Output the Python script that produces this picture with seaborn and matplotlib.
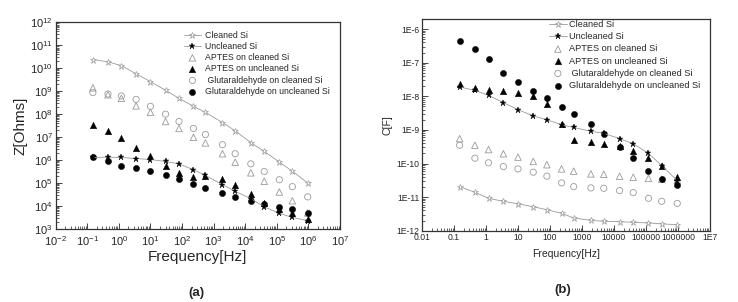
import numpy as np
import pandas as pd
import matplotlib
matplotlib.use('Agg')
import matplotlib.pyplot as plt
import matplotlib.ticker as mticker
import seaborn as sns

sns.set_theme(style="ticks")
plt.rcParams['font.family'] = ['Liberation Sans', 'DejaVu Sans']
plt.rcParams['mathtext.fontset'] = 'custom'
plt.rcParams['mathtext.rm'] = 'Liberation Sans'
plt.rcParams['xtick.direction'] = 'in'
plt.rcParams['ytick.direction'] = 'in'
plt.rcParams['axes.edgecolor'] = '#333333'
plt.rcParams['axes.linewidth'] = 0.9

# 데이터
freq = [0.15, 0.45, 1.2, 3.5, 10, 30, 80, 230, 550, 1900, 4800, 15000, 40000, 120000, 310000, 950000]

# (a) impedance Z [Ohms]
z_cleaned = [2.4e10, 1.9e10, 1.3e10, 5.7e9, 2.6e9, 1.1e9, 4.9e8, 2.2e8, 1.2e8, 4.3e7, 1.9e7, 5.8e6, 2.4e6, 8.2e5, 3.3e5, 1.0e5]
z_uncleaned = [1.3e6, 1.34e6, 1.3e6, 1.17e6, 1.06e6, 8.7e5, 6.9e5, 3.8e5, 2.15e5, 8.5e4, 4.4e4, 2.1e4, 9.2e3, 4.8e3, 3.2e3, 2.3e3]
z_aptes_cl = [1.4e9, 7.0e8, 4.9e8, 2.3e8, 1.2e8, 4.8e7, 2.4e7, 9.8e6, 5.6e6, 1.9e6, 8.1e5, 2.8e5, 1.2e5, 4.1e4, 1.7e4, 5.0e3]
z_aptes_uncl = [3.4e7, 1.9e7, 8.9e6, 3.5e6, 1.5e6, 5.3e5, 2.7e5, 1.8e5, 2.0e5, 1.5e5, 8.0e4, 3.4e4, 1.4e4, 7.6e3, 4.8e3, 2.6e3]
z_glut_cl = [8.7e8, 7.6e8, 6.2e8, 4.4e8, 2.2e8, 1.0e8, 4.8e7, 2.4e7, 1.3e7, 4.7e6, 1.9e6, 6.9e5, 3.2e5, 1.4e5, 7.0e4, 2.5e4]
z_glut_uncl = [1.34e6, 9.6e5, 5.8e5, 4.4e5, 3.3e5, 2.2e5, 1.5e5, 9.1e4, 6.3e4, 3.7e4, 2.5e4, 1.7e4, 1.25e4, 9.2e3, 7.6e3, 4.8e3]

# (b) capacitance C [F]
c_cleaned = [2.05e-11, 1.39e-11, 9.2e-12, 7.5e-12, 6.3e-12, 5.2e-12, 4.2e-12, 3.3e-12, 2.4e-12, 2.03e-12, 1.9e-12, 1.86e-12, 1.77e-12, 1.7e-12, 1.6e-12, 1.5e-12]
c_uncleaned = [1.9e-8, 1.5e-8, 1.07e-8, 6.5e-9, 4.0e-9, 2.6e-9, 2.0e-9, 1.43e-9, 1.18e-9, 9.1e-10, 7.9e-10, 5.5e-10, 3.9e-10, 2.0e-10, 8.7e-11, 3.1e-11]
c_aptes_cl = [5.5e-10, 3.5e-10, 2.6e-10, 1.95e-10, 1.55e-10, 1.15e-10, 9.2e-11, 6.9e-11, 5.9e-11, 4.9e-11, 4.8e-11, 4.2e-11, 3.9e-11, 3.6e-11, 3.4e-11, 3.2e-11]
c_aptes_uncl = [2.4e-8, 1.78e-8, 1.58e-8, 1.44e-8, 1.26e-8, 1.0e-8, 6.0e-9, 1.45e-9, 5.1e-10, 4.3e-10, 3.9e-10, 3.3e-10, 2.3e-10, 1.5e-10, 8.7e-11, 3.9e-11]
c_glut_cl = [3.5e-10, 1.44e-10, 1.05e-10, 8.1e-11, 6.9e-11, 5.5e-11, 4.2e-11, 2.65e-11, 2.05e-11, 1.88e-11, 1.83e-11, 1.56e-11, 1.36e-11, 9.2e-12, 7.5e-12, 6.5e-12]
c_glut_uncl = [4.5e-7, 2.5e-7, 1.25e-7, 5.1e-8, 2.6e-8, 1.48e-8, 8.9e-9, 4.8e-9, 2.95e-9, 1.45e-9, 7.7e-10, 3.2e-10, 1.44e-10, 5.8e-11, 3.5e-11, 2.3e-11]

series_names = ['Cleaned Si', 'Uncleaned Si', 'APTES on cleaned Si', 'APTES on uncleaned Si',
                ' Glutaraldehyde on cleaned Si', 'Glutaraldehyde on uncleaned Si']

xtick_labels_b = ['0.01', '0.1', '1', '10', '100', '1000', '10000', '100000', '1000000', '1E7']
ytick_labels_b = ['1E-12', '1E-11', '1E-10', '1E-9', '1E-8', '1E-7', '1E-6']

GREY = '#9a9a9a'

df_a = pd.DataFrame({'f': freq, 'cl': z_cleaned, 'un': z_uncleaned, 'apc': z_aptes_cl,
                     'apu': z_aptes_uncl, 'glc': z_glut_cl, 'glu': z_glut_uncl})
df_b = pd.DataFrame({'f': freq, 'cl': c_cleaned, 'un': c_uncleaned, 'apc': c_aptes_cl,
                     'apu': c_aptes_uncl, 'glc': c_glut_cl, 'glu': c_glut_uncl})

fig = plt.figure(figsize=(7.38, 3.02), dpi=100)
ax_a = fig.add_axes([0.0755, 0.2417, 0.3852, 0.6844])
ax_b = fig.add_axes([0.5718, 0.2361, 0.3902, 0.7010])


def draw(ax, df, ms):
    sns.lineplot(data=df, x='f', y='cl', ax=ax, color=GREY, lw=0.6, marker='*', markersize=ms,
                 markerfacecolor='white', markeredgecolor=GREY, markeredgewidth=0.5, label=series_names[0])
    sns.lineplot(data=df, x='f', y='un', ax=ax, color=GREY, lw=0.6, marker='*', markersize=ms,
                 markerfacecolor='black', markeredgecolor='black', markeredgewidth=0.3, label=series_names[1])
    sns.scatterplot(data=df, x='f', y='apc', ax=ax, marker='^', s=22, facecolors='none',
                    edgecolor=GREY, linewidth=0.6, label=series_names[2])
    sns.scatterplot(data=df, x='f', y='apu', ax=ax, marker='^', s=22, color='black',
                    edgecolor='black', linewidth=0.3, label=series_names[3])
    sns.scatterplot(data=df, x='f', y='glc', ax=ax, marker='o', s=20, facecolors='none',
                    edgecolor=GREY, linewidth=0.6, label=series_names[4])
    sns.scatterplot(data=df, x='f', y='glu', ax=ax, marker='o', s=20, color='black',
                    edgecolor='black', linewidth=0.3, label=series_names[5])
    ax.set_xscale('log')
    ax.set_yscale('log')
    ax.tick_params(which='major', length=4, width=0.6, top=False, right=False, pad=2)
    ax.tick_params(which='minor', length=2, width=0.5, top=False, right=False)


draw(ax_a, df_a, 5)
draw(ax_b, df_b, 5)

# (a) 축 설정
ax_a.set_xlim(1e-2, 1e7)
ax_a.set_ylim(1e3, 1e12)
ax_a.xaxis.set_major_locator(mticker.LogLocator(base=10, numticks=20))
ax_a.yaxis.set_major_locator(mticker.LogLocator(base=10, numticks=20))
ax_a.xaxis.set_minor_locator(mticker.LogLocator(base=10, subs=np.arange(2, 10), numticks=20))
ax_a.yaxis.set_minor_locator(mticker.LogLocator(base=10, subs=np.arange(2, 10), numticks=20))
ax_a.xaxis.set_major_formatter(mticker.LogFormatterSciNotation())
ax_a.yaxis.set_major_formatter(mticker.LogFormatterSciNotation())
ax_a.tick_params(labelsize=8)
ax_a.tick_params(axis='x', pad=4)
ax_a.set_xlabel('Frequency[Hz]', fontsize=11, labelpad=1)
ax_a.set_ylabel('Z[Ohms]', fontsize=11, labelpad=2)
ax_a.legend(loc='upper left', bbox_to_anchor=(0.45, 0.96), frameon=False, fontsize=6.3,
            handlelength=2.0, handletextpad=0.4, labelspacing=0.26, borderaxespad=0, borderpad=0)

# (b) 축 설정
ax_b.set_xlim(1e-2, 1e7)
ax_b.set_ylim(1e-12, 2e-6)
ax_b.set_xticks(10.0 ** np.arange(-2, 8))
ax_b.set_xticklabels(xtick_labels_b)
ax_b.set_yticks(10.0 ** np.arange(-12, -5))
ax_b.set_yticklabels(ytick_labels_b)
ax_b.xaxis.set_minor_locator(mticker.LogLocator(base=10, subs=np.arange(2, 10), numticks=20))
ax_b.yaxis.set_minor_locator(mticker.LogLocator(base=10, subs=np.arange(2, 10), numticks=20))
ax_b.tick_params(labelsize=6.2)
ax_b.set_xlabel('Frequency[Hz]', fontsize=7.5, labelpad=5)
ax_b.set_ylabel('C[F]', fontsize=7.5, labelpad=3)
ax_b.legend(loc='upper left', bbox_to_anchor=(0.44, 0.995), frameon=False, fontsize=6.6,
            handlelength=2.0, handletextpad=0.2, labelspacing=0.35, borderaxespad=0, borderpad=0)

fig.text(0.2665, 0.03, '(a)', fontsize=9.5, weight='bold', ha='center', va='center')
fig.text(0.763, 0.04, '(b)', fontsize=9.5, weight='bold', ha='center', va='center')

fig.savefig('out.png', dpi=100)
